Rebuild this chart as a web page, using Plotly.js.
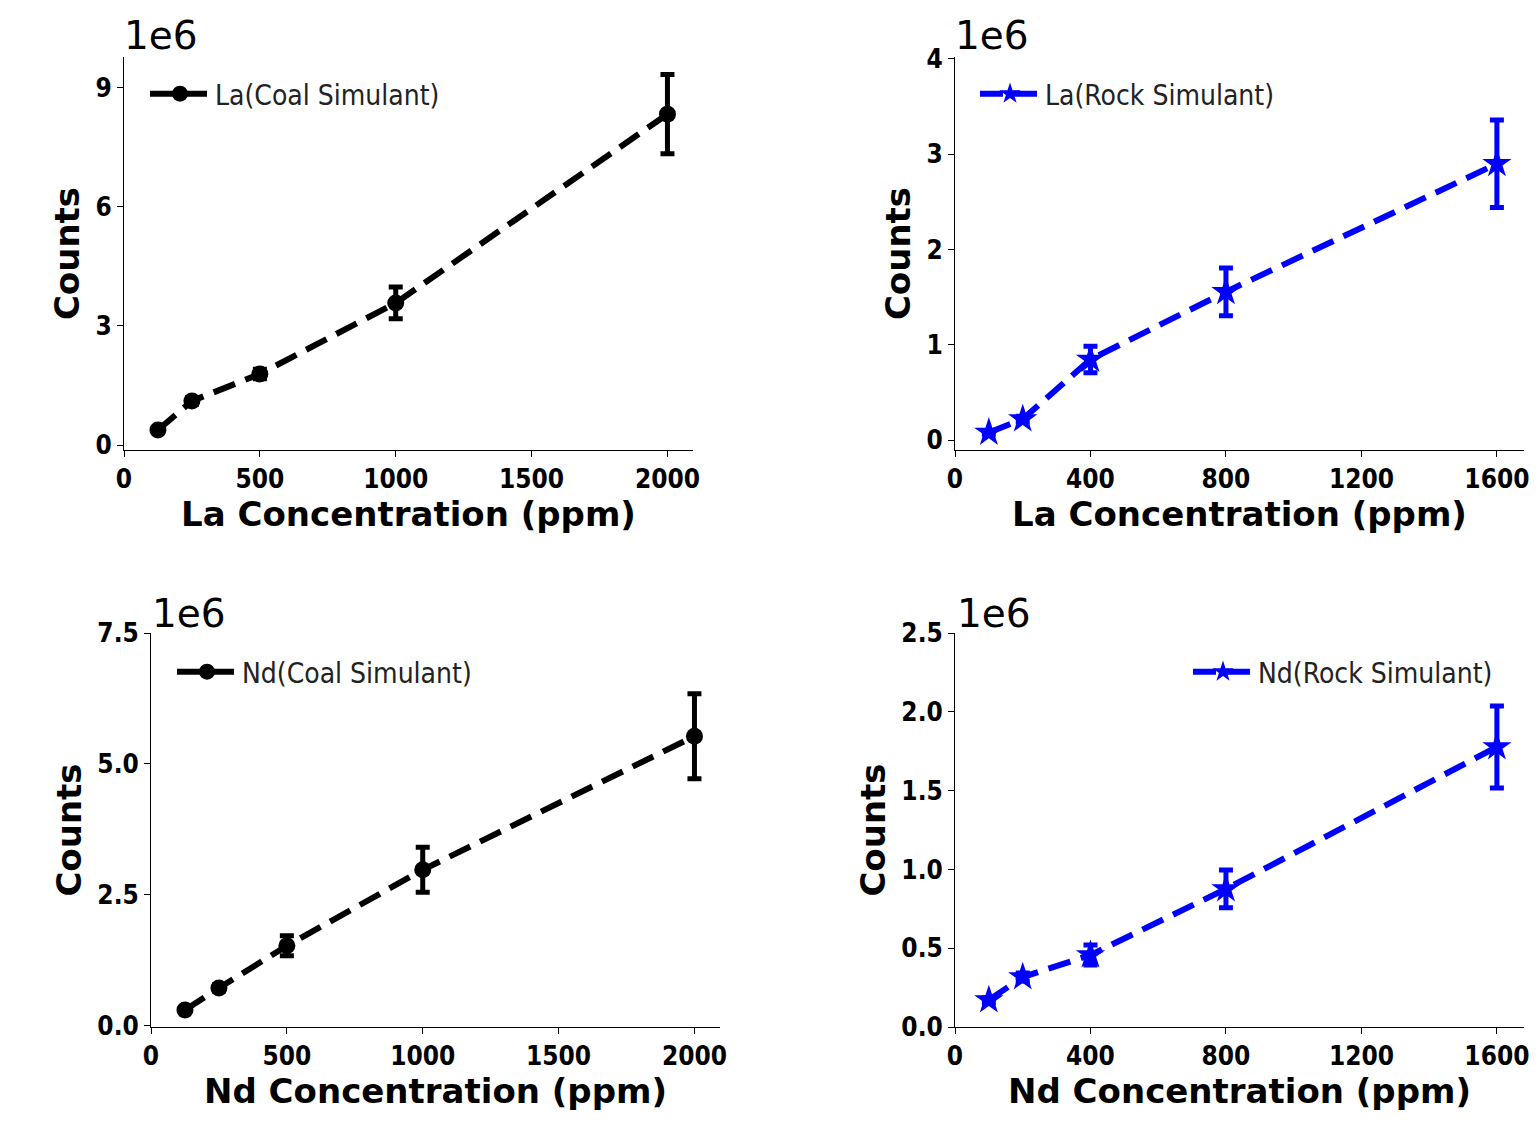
<!DOCTYPE html>
<html>
<head>
<meta charset="utf-8">
<script src="https://cdn.plot.ly/plotly-3.0.1.min.js"></script>
<style>
html,body{margin:0;padding:0;background:#fff;}
#chart{width:1538px;height:1125px;}
</style>
</head>
<body>
<div id="chart"></div>
<script>
// ---- Data ----
const laCoalX = [125, 250, 500, 1000, 2000];
const laCoalY = [380000, 1110000, 1790000, 3580000, 8340000];
const laCoalErr = [60000, 80000, 120000, 400000, 1000000];

const laRockX = [100, 200, 400, 800, 1600];
const laRockY = [80000, 220000, 846000, 1556000, 2900000];
const laRockErr = [20000, 30000, 140000, 250000, 460000];

const ndCoalX = [125, 250, 500, 1000, 2000];
const ndCoalY = [305000, 725000, 1530000, 2980000, 5530000];
const ndCoalErr = [40000, 60000, 190000, 430000, 810000];

const ndRockX = [100, 200, 400, 800, 1600];
const ndRockY = [171000, 317000, 457000, 876000, 1777000];
const ndRockErr = [15000, 25000, 63000, 120000, 260000];

const laCoalTickVals = [0, 3e6, 6e6, 9e6];
const laCoalTickText = ["0", "3", "6", "9"];
const laRockTickVals = [0, 1e6, 2e6, 3e6, 4e6];
const laRockTickText = ["0", "1", "2", "3", "4"];
const ndCoalTickVals = [0, 2.5e6, 5e6, 7.5e6];
const ndCoalTickText = ["0.0", "2.5", "5.0", "7.5"];
const ndRockTickVals = [0, 0.5e6, 1e6, 1.5e6, 2e6, 2.5e6];
const ndRockTickText = ["0.0", "0.5", "1.0", "1.5", "2.0", "2.5"];
const coalXTicks = [0, 500, 1000, 1500, 2000];
const rockXTicks = [0, 400, 800, 1200, 1600];

// ---- Styling ----
const W = 1538, H = 1125;
const TICKF = '"DejaVu Sans Condensed", "DejaVu Sans", sans-serif';
const LEGF = '"DejaVu Sans Condensed", "DejaVu Sans", sans-serif';
const TITLEF = '"DejaVu Sans", sans-serif';

function px(x){return x/W;}
function py(y){return 1 - y/H;}

function mkTrace(x, y, err, name, color, symbol, msize, xa, ya, leg){
  return {
    x: x, y: y, name: name, type: 'scatter', mode: 'lines+markers',
    xaxis: xa, yaxis: ya, legend: leg,
    line: {color: color, width: 6, dash: '23px,11px'},
    marker: {color: color, size: msize, symbol: symbol, line: {width: 0}},
    error_y: {type: 'data', array: err, visible: true, color: color, thickness: 5, width: 7},
    hoverinfo: 'skip'
  };
}

const data = [
  mkTrace(laCoalX, laCoalY, laCoalErr, 'La(Coal Simulant)', '#000000', 'circle', 17, 'x', 'y', 'legend'),
  mkTrace(laRockX, laRockY, laRockErr, 'La(Rock Simulant)', '#0000ff', 'star', 22, 'x2', 'y2', 'legend2'),
  mkTrace(ndCoalX, ndCoalY, ndCoalErr, 'Nd(Coal Simulant)', '#000000', 'circle', 17, 'x3', 'y3', 'legend3'),
  mkTrace(ndRockX, ndRockY, ndRockErr, 'Nd(Rock Simulant)', '#0000ff', 'star', 22, 'x4', 'y4', 'legend4')
];

function xAx(domain, range, ticks, anchor, title){
  return {
    domain: domain, range: range, anchor: anchor,
    tickmode: 'array', tickvals: ticks, ticktext: ticks.map(String),
    showline: true, linecolor: '#000', linewidth: 1, mirror: false,
    showgrid: false, zeroline: false,
    ticks: 'outside', ticklen: 6, tickwidth: 1, tickcolor: '#000',
    tickfont: {family: TICKF, size: 26, color: '#000', weight: 'bold'},
    title: {text: title, font: {family: TITLEF, size: 34, color: '#000', weight: 'bold'}, standoff: 7},
    automargin: false, fixedrange: true
  };
}
function yAx(domain, range, vals, text, anchor){
  return {
    domain: domain, range: range, anchor: anchor,
    tickmode: 'array', tickvals: vals, ticktext: text,
    showline: true, linecolor: '#000', linewidth: 1, mirror: false,
    showgrid: false, zeroline: false,
    ticks: 'outside', ticklen: 6, tickwidth: 1, tickcolor: '#000',
    tickfont: {family: TICKF, size: 26, color: '#000', weight: 'bold'},
    title: {text: 'Counts', font: {family: TITLEF, size: 34, color: '#000', weight: 'bold'}, standoff: 5},
    automargin: false, fixedrange: true
  };
}

function leg(x, y, xanchor){
  return {
    x: px(x), y: py(y), xanchor: xanchor || 'left', yanchor: 'middle',
    bgcolor: 'rgba(0,0,0,0)', borderwidth: 0,
    font: {family: LEGF, size: 28, color: '#222'},
    itemwidth: 60
  };
}

function offsetLabel(x, yTop){
  return {
    text: '1e6', xref: 'paper', yref: 'paper', x: px(x), y: py(yTop),
    xanchor: 'left', yanchor: 'bottom', showarrow: false,
    font: {family: TITLEF, size: 39, color: '#000'}
  };
}

const layout = {
  width: W, height: H,
  margin: {l: 0, r: 0, t: 0, b: 0},
  paper_bgcolor: '#fff', plot_bgcolor: '#fff',
  showlegend: true,
  xaxis:  xAx([px(124), px(693)], [0, 2094], coalXTicks, 'y', 'La Concentration (ppm)'),
  yaxis:  yAx([py(450), py(57)], [-126000, 9780000], laCoalTickVals, laCoalTickText, 'x'),
  xaxis2: xAx([px(955), px(1524)], [0, 1680], rockXTicks, 'y2', 'La Concentration (ppm)'),
  yaxis2: yAx([py(450), py(57)], [-104000, 4020000], laRockTickVals, laRockTickText, 'x2'),
  xaxis3: xAx([px(151), px(720)], [0, 2094], coalXTicks, 'y3', 'Nd Concentration (ppm)'),
  yaxis3: yAx([py(1027), py(633)], [-20000, 7500000], ndCoalTickVals, ndCoalTickText, 'x3'),
  xaxis4: xAx([px(955), px(1524)], [0, 1680], rockXTicks, 'y4', 'Nd Concentration (ppm)'),
  yaxis4: yAx([py(1027), py(633)], [0, 2500000], ndRockTickVals, ndRockTickText, 'x4'),
  legend:  leg(145, 94),
  legend2: leg(975, 94),
  legend3: leg(172, 672),
  legend4: leg(1188, 672),
  annotations: [
    offsetLabel(122, 60),
    offsetLabel(953, 60),
    offsetLabel(150, 638),
    offsetLabel(955, 638)
  ]
};

Plotly.newPlot('chart', data, layout, {staticPlot: true, displayModeBar: false});
</script>
</body>
</html>
